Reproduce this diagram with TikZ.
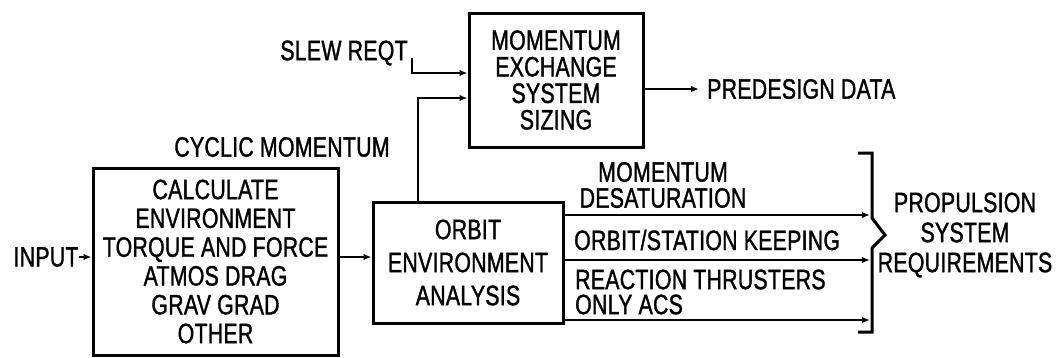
\documentclass[tikz,border=0pt]{standalone}
\usepackage{fontspec}
\setmainfont{Liberation Sans}[FakeStretch=0.76,FakeBold=1.2,LetterSpace=1.0]
\usetikzlibrary{arrows.meta}
\begin{document}
\begin{tikzpicture}[x=1pt,y=-1pt,
  every node/.style={font=\fontsize{28}{28}\selectfont, inner sep=0pt},
  blk/.style={draw, line width=3pt, align=center},
  lbl/.style={align=center},
  conn/.style={line width=2.2pt},
  arr/.style={conn, -{Latex[length=8pt,width=6.5pt]}},
  brk/.style={line width=3pt}
]
\useasboundingbox (0,0) rectangle (1058,357);

% blocks
\node[blk, minimum width=174pt, minimum height=134pt,
      font=\fontsize{28}{26.5}\selectfont] (mom) at (556,80)
  {MOMENTUM\\EXCHANGE\\SYSTEM\\SIZING};
\node[blk, minimum width=245pt, minimum height=187pt,
      font=\fontsize{28}{28.8}\selectfont] (calc) at (215.5,261.5)
  {CALCULATE\\ENVIRONMENT\\TORQUE AND FORCE\\ATMOS DRAG\\GRAV GRAD\\OTHER};
\node[blk, minimum width=190pt, minimum height=121pt,
      font=\fontsize{28}{33}\selectfont] (orbit) at (468,262.5)
  {ORBIT\\ENVIRONMENT\\ANALYSIS};

% free labels
\node (input) at (46,257) {INPUT};
\node (slew) at (344,53) {SLEW REQT};
\node (cycl) at (282,147) {CYCLIC MOMENTUM};
\node[anchor=west] (pre) at (707,89) {PREDESIGN DATA};
\node[lbl, font=\fontsize{28}{26}\selectfont] (md) at (663,185)
  {MOMENTUM\\DESATURATION};
\node[anchor=west] (osk) at (574,240) {ORBIT/STATION KEEPING};
\node[anchor=west] (rt1) at (575,279.5) {REACTION THRUSTERS};
\node[anchor=west] (rt2) at (575,304.5) {ONLY ACS};
\node[lbl, font=\fontsize{28}{30}\selectfont] (psr) at (965,235)
  {PROPULSION\\SYSTEM\\REQUIREMENTS};

% helper coordinates
\coordinate (s0) at (412,58);
\coordinate (cx) at (418,0);
\coordinate (bx) at (870,0);

% connectors
\draw[arr] (input.east) -- (input.east -| calc.west);
\draw[arr] (input.east -| calc.east) -- (input.east -| orbit.west);
\draw[arr] (s0) |- ([yshift=7pt]mom.west);
\draw[arr] (orbit.north -| cx) |- ([yshift=-18pt]mom.west);
\draw[arr] ([yshift=-9pt]mom.east) -- ([xshift=-8pt]pre.west);
\draw[arr] (orbit.east |- 0,215) -- (bx |- 0,215);
\draw[arr] (orbit.east |- 0,260) -- (bx |- 0,260);
\draw[arr] (orbit.east |- 0,320) -- (bx |- 0,320);

% brace gathering the propulsion requirements
\draw[brk] (858,153) -- (872,153) -- (872,218) -- (885,235)
  -- (872,248) -- (872,332) -- (858,332);
\end{tikzpicture}
\end{document}
